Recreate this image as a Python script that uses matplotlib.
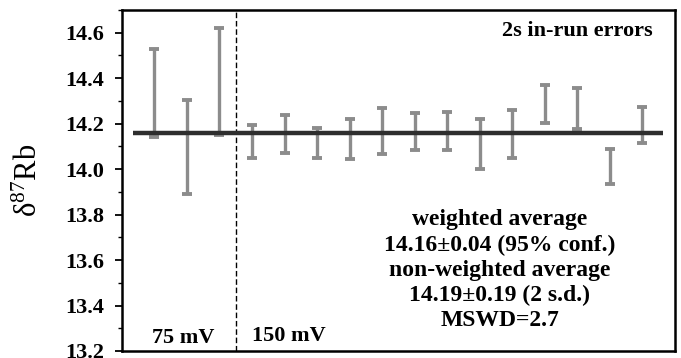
import matplotlib
matplotlib.use("Agg")
import matplotlib.pyplot as plt
import numpy as np
from matplotlib.ticker import MultipleLocator

plt.rcParams['font.family'] = ['Liberation Serif', 'DejaVu Serif']
plt.rcParams['mathtext.fontset'] = 'custom'
plt.rcParams['mathtext.rm'] = 'Liberation Serif'
plt.rcParams['mathtext.it'] = 'Liberation Serif:italic'
plt.rcParams['mathtext.bf'] = 'Liberation Serif:bold'

# data: run index, lower and upper limits of 2s in-run error bars
runs = np.arange(1, 17)
lows = [14.14, 13.89, 14.15, 14.05, 14.07, 14.05, 14.045, 14.065, 14.085, 14.085,
        14.00, 14.05, 14.205, 14.175, 13.935, 14.115]
highs = [14.53, 14.305, 14.62, 14.195, 14.24, 14.18, 14.22, 14.27, 14.245, 14.25,
         14.22, 14.26, 14.37, 14.355, 14.09, 14.275]
weighted_avg = 14.16
split_at = 3.5
group_labels = ["75 mV", "150 mV"]
stats_text = ("weighted average\n14.16\u00b10.04 (95% conf.)\n"
              "non-weighted average\n14.19\u00b10.19 (2 s.d.)\nMSWD=2.7")

lows = np.array(lows)
highs = np.array(highs)
centers = (lows + highs) / 2
halfs = (highs - lows) / 2

fig = plt.figure(figsize=(6.81, 3.58), dpi=100)
ax = fig.add_axes([0.179, 0.0196, 0.812, 0.9524])

ax.errorbar(runs, centers, yerr=halfs, fmt='none', ecolor='#8c8c8c',
            elinewidth=2.4, capsize=3.8, capthick=2.8, zorder=2)
ax.plot([0.35, 16.65], [weighted_avg, weighted_avg], color='#2e2e2e', lw=3.2, zorder=3,
        solid_capstyle='butt')
ax.axvline(split_at, color='black', lw=1, ls=(0, (4, 2)), zorder=1)

ax.set_xlim(0, 17)
ax.set_ylim(13.2, 14.7)
ax.yaxis.set_minor_locator(MultipleLocator(0.1))
yt = np.arange(13.2, 14.61, 0.2)
ax.set_yticks(yt)
ax.set_yticklabels([f"{v:.1f}" for v in yt], fontweight='bold', fontsize=16)
ax.set_xticks([])
ax.tick_params(axis='y', which='major', direction='out', length=5, width=1.3, pad=8)
ax.tick_params(axis='y', which='minor', direction='out', length=3, width=1.0)
for s in ax.spines.values():
    s.set_linewidth(1.8)

ax.set_ylabel('\u03b4$^{87}$Rb', fontsize=22, labelpad=15)

ax.text(16.32, 14.607, "2s in-run errors", ha='right', va='center',
        fontsize=16, fontweight='bold')
ax.text(11.62, 13.555, stats_text, ha='center', va='center', fontsize=17,
        fontweight='bold', linespacing=1.26)
ax.text(1.875, 13.257, group_labels[0], ha='center', va='center', fontsize=16,
        fontweight='bold')
ax.text(4.0, 13.264, group_labels[1], ha='left', va='center', fontsize=16,
        fontweight='bold')

fig.savefig("out.png", dpi=100)
